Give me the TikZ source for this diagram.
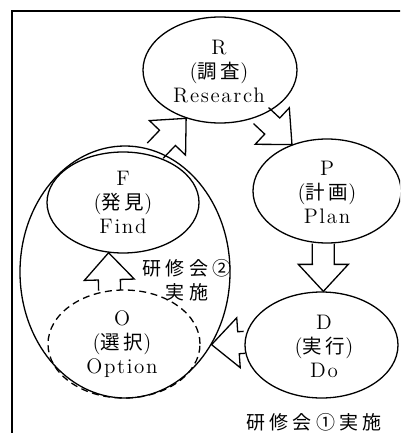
\documentclass[tikz,border=0pt]{standalone}
\usepackage{fontspec}
\newfontfamily\jp{Noto Sans CJK JP}[LetterSpace=22]
\newfontfamily\jpin{Noto Sans CJK JP}[LetterSpace=18]
\newfontfamily\lat{lmroman12-regular}[Extension=.otf, LetterSpace=8]
\usetikzlibrary{shapes.geometric,calc}

\tikzset{
  ell/.style={ellipse, draw, line width=1.3pt, inner sep=0pt},
  dashell/.style={ell, dash pattern=on 7pt off 4.5pt},
  lbl/.style={align=center, inner sep=0pt, font=\lat\fontsize{21}{24}\selectfont},
  blk/.style={draw, line width=1.3pt, line join=miter},
  note/.style={align=center, inner sep=0pt, font=\jp\fontsize{19}{24}\selectfont},
}

% hollow block arrow from one point to another
\newcommand\blockarrow[2]{%
  \path let \p1=(#1), \p2=(#2) in
    \pgfextra{%
      \pgfmathsetmacro\baang{atan2(\y2-\y1,\x2-\x1)}%
      \pgfmathsetmacro\balen{veclen(\x2-\x1,\y2-\y1)}%
      \xdef\baang{\baang}\xdef\balen{\balen}%
      \xdef\bax{\x1}\xdef\bay{\y1}};
  \draw[blk, shift={(\bax,\bay)}, rotate=\baang]
    (0,-11) -- ({\balen-27},-11) -- ({\balen-27},-25) -- (\balen,0)
    -- ({\balen-27},25) -- ({\balen-27},11) -- (0,11);
}
\newcommand\kj[1]{{\jpin\fontsize{19.5}{24}\selectfont #1}}

\begin{document}
\begin{tikzpicture}[x=1pt, y=-1pt]
  \path[use as bounding box, clip] (0,0) rectangle (400,433);
  \draw[line width=1.6pt] (12,11) rectangle (415,450);

  % stages of the cycle
  \node[ell, minimum width=154, minimum height=106] (R) at (220,70) {};
  \node[ell, minimum width=148, minimum height=104] (P) at (327,191) {};
  \node[ell, minimum width=153, minimum height=106] (D) at (321.5,345) {};
  \node[ell, minimum width=210, minimum height=252] (G) at (125,272) {};
  \node[ell, minimum width=152, minimum height=101] (F) at (123,202.5) {};
  \node[dashell, minimum width=152, minimum height=108] (O) at (124,344) {};

  \node[lbl] (Rt) at (219,72) {R\\(\kj{調査})\\Research};
  \node[lbl] (Pt) at (327,192) {P\\(\kj{計画})\\Plan};
  \node[lbl] (Dt) at (324,346) {D\\(\kj{実行})\\Do};
  \node[lbl] (Ft) at (123,202) {F\\(\kj{発見})\\Find};
  \node[lbl] (Ot) at (122,344) {O\\(\kj{選択})\\Option};

  % arrows between stages
  \blockarrow{G.76.1}{R.235.5}
  \blockarrow{R.312.3}{P.127.3}
  \blockarrow{P.266}{D.88}
  \blockarrow{D.178.4}{G.320.5}
  \blockarrow{O.105.8}{F.254.8}

  % workshop notes
  \node[note] (n2) at (187,280) {研修会②\\実施};
  \node[note] (n1) at (314,422) {研修会①実施};
\end{tikzpicture}
\end{document}
